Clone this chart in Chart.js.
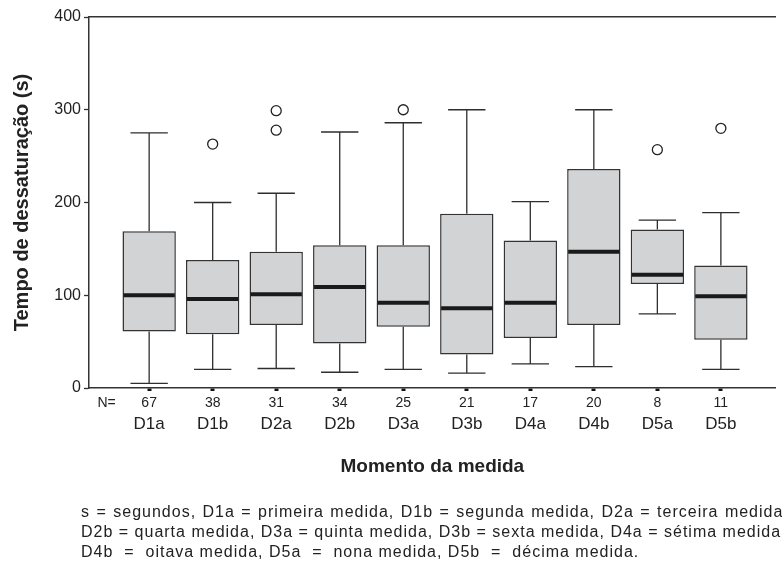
<!DOCTYPE html>
<html>
<head>
<meta charset="utf-8">
<script src="https://cdn.jsdelivr.net/npm/chart.js@4.4.1/dist/chart.umd.min.js"></script>
<style>
  html, body { margin: 0; padding: 0; background: #fff; overflow: hidden; }
  #wrap { position: relative; width: 782px; height: 563px; }
  #nota {
    position: absolute; left: 81px; top: 502px;
    font: 16px 'Liberation Sans', Arial, Helvetica, sans-serif;
    letter-spacing: 1px; line-height: 20px; color: #222; white-space: pre;
  }
  #nota .l1 { word-spacing: 1px; }
</style>
</head>
<body>
<div id="wrap">
  <canvas id="grafico" width="782" height="563"></canvas>
  <div id="nota"><div class="l1">s = segundos, D1a = primeira medida, D1b = segunda medida, D2a = terceira medida,</div><div>D2b = quarta medida, D3a = quinta medida, D3b = sexta medida, D4a = sétima medida,</div><div>D4b  =  oitava medida, D5a  =  nona medida, D5b  =  décima medida.</div></div>
</div>
<script>
// dados
const momentos = ['D1a', 'D1b', 'D2a', 'D2b', 'D3a', 'D3b', 'D4a', 'D4b', 'D5a', 'D5b'];
const nAmostra = [67, 38, 31, 34, 25, 21, 17, 20, 8, 11];
const bigodeMin = [5, 20, 21, 17, 20, 16, 26, 23, 80, 20];
const q1 = [61, 58, 68, 48, 66, 36, 54, 68, 112, 52];
const mediana = [100, 96, 101, 109, 92, 86, 92, 147, 122, 99];
const q3 = [169, 138, 147, 154, 154, 188, 159, 236, 171, 132];
const bigodeMax = [275, 200, 210, 276, 286, 300, 201, 300, 181, 189];
// outliers: indice do momento e valor
const outIdx = [1, 2, 2, 4, 8, 9];
const outVal = [263, 299, 278, 300, 257, 280];
const yTicks = [0, 100, 200, 300, 400];

const posicoes = momentos.map((m, i) => i + 1);
const posN = 0.33; // posicao do rotulo "N="

Chart.defaults.font.family = "'Liberation Sans', Arial, Helvetica, sans-serif";
Chart.defaults.color = '#222';

const caixas = {
    id: 'caixas',
    afterDatasetsDraw(chart) {
        const ctx = chart.ctx;
        const y = chart.scales.y;
        const barras = chart.getDatasetMeta(0).data;
        ctx.save();
        barras.forEach((barra, i) => {
            const x = barra.x;
            const meia = barra.width / 2;
            const cap = meia * 0.7;
            const yQ3 = y.getPixelForValue(q3[i]);
            const yQ1 = y.getPixelForValue(q1[i]);
            const yMax = y.getPixelForValue(bigodeMax[i]);
            const yMin = y.getPixelForValue(bigodeMin[i]);
            ctx.strokeStyle = '#2e2e2e';
            ctx.lineWidth = 1.3;
            ctx.beginPath();
            ctx.moveTo(x, yQ3); ctx.lineTo(x, yMax);
            ctx.moveTo(x - cap, yMax); ctx.lineTo(x + cap, yMax);
            ctx.moveTo(x, yQ1); ctx.lineTo(x, yMin);
            ctx.moveTo(x - cap, yMin); ctx.lineTo(x + cap, yMin);
            ctx.stroke();
            // mediana
            const yMed = y.getPixelForValue(mediana[i]);
            ctx.strokeStyle = '#1a1a1a';
            ctx.lineWidth = 4;
            ctx.beginPath();
            ctx.moveTo(x - meia + 1, yMed); ctx.lineTo(x + meia - 1, yMed);
            ctx.stroke();
        });
        ctx.restore();
    }
};

const fixarTicks = lista => scale => { scale.ticks = lista.map(v => ({ value: v })); };

const config = {
    type: 'bar',
    data: {
        datasets: [{
            label: 'caixa',
            xAxisID: 'x',
            data: posicoes.map((p, i) => ({ x: p, y: [q1[i], q3[i]] })),
            backgroundColor: '#d2d3d5',
            borderColor: '#333',
            borderWidth: 1.5,
            borderSkipped: false,
            categoryPercentage: 1,
            barPercentage: 0.84
        }, {
            type: 'scatter',
            label: 'outliers',
            xAxisID: 'x',
            data: outIdx.map((k, i) => ({ x: posicoes[k], y: outVal[i] })),
            pointRadius: 5,
            pointBackgroundColor: '#fff',
            pointBorderColor: '#222',
            pointBorderWidth: 1.3
        }]
    },
    options: {
        responsive: false,
        animation: false,
        layout: { padding: { top: 17, right: 0, bottom: 85, left: 0 } },
        plugins: { legend: { display: false }, tooltip: { enabled: false } },
        scales: {
            x: {
                type: 'linear', axis: 'x', position: 'bottom', weight: 2,
                min: 0.053, max: 10.863, offset: false,
                afterBuildTicks: fixarTicks(posicoes),
                grid: { display: false, drawTicks: false, offset: false },
                border: { display: false },
                ticks: {
                    autoSkip: false, maxRotation: 0, padding: -2,
                    font: { size: 17 }, color: '#222',
                    callback: (v, i) => momentos[i]
                },
                title: {
                    display: true, text: 'Momento da medida',
                    font: { size: 19, weight: 'bold' }, color: '#222',
                    padding: { top: 23, bottom: 0 }
                }
            },
            xN: {
                type: 'linear', axis: 'x', position: 'bottom', weight: 1,
                min: 0.053, max: 10.863, offset: false,
                afterBuildTicks: fixarTicks([posN].concat(posicoes)),
                grid: {
                    offset: false,
                    drawOnChartArea: false, drawTicks: true, tickLength: 3, tickWidth: 4,
                    tickColor: c => c.index === 0 ? 'rgba(0,0,0,0)' : '#111'
                },
                border: { display: true, color: '#333', width: 1.5 },
                ticks: {
                    autoSkip: false, maxRotation: 0, padding: 4,
                    font: { size: 14 }, color: '#222',
                    callback: (v, i) => i === 0 ? 'N=' : String(nAmostra[i - 1])
                }
            },
            xTop: {
                type: 'linear', axis: 'x', position: 'top',
                min: 0.053, max: 10.863, offset: false,
                grid: { display: false, drawTicks: false },
                border: { display: true, color: '#333', width: 1.5 },
                ticks: { display: false }
            },
            y: {
                type: 'linear', position: 'left',
                min: 0, max: 400,
                afterBuildTicks: fixarTicks(yTicks),
                afterFit: s => { s.width = 89; },
                grid: { drawOnChartArea: false, drawTicks: true, tickLength: 5, tickColor: '#333', tickWidth: 1.3 },
                border: { display: true, color: '#333', width: 1.5 },
                ticks: { padding: 3, font: { size: 16 }, color: '#222' },
                title: {
                    display: true, text: 'Tempo de dessaturação (s)',
                    font: { size: 20, weight: 'bold' }, color: '#222',
                    padding: { top: 10, bottom: 0 }
                }
            }
        }
    },
    plugins: [caixas]
};

new Chart(document.getElementById('grafico').getContext('2d'), config);
</script>
</body>
</html>
